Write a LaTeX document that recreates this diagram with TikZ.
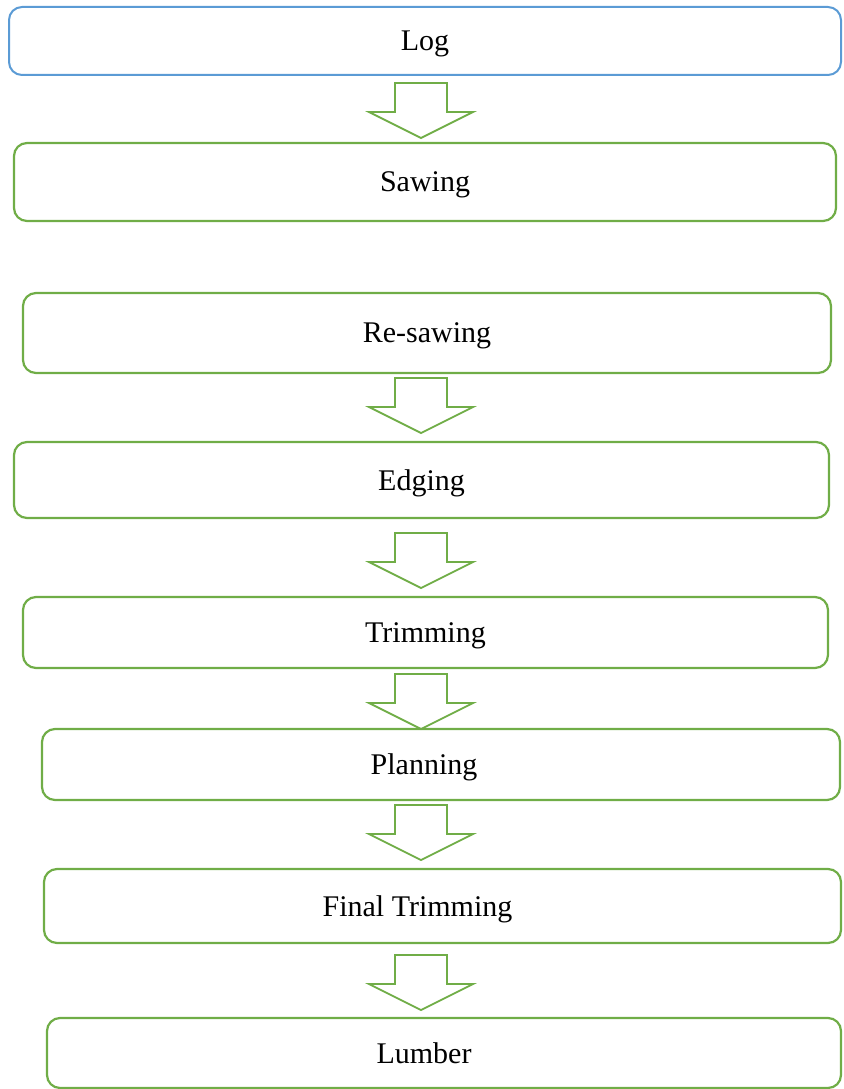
\documentclass[tikz,border=0pt]{standalone}
\usepackage{fontspec}
\setmainfont{Liberation Serif}
\definecolor{stagegreen}{RGB}{112,173,71}
\definecolor{stageblue}{RGB}{91,155,213}
\begin{document}
\begin{tikzpicture}[x=1pt,y=-1pt]
		\tikzset{stage/.style = {shape=rectangle, draw=stagegreen, line width=2.2pt, rounded corners=13pt, inner sep=0pt, text depth=0pt, font=\fontsize{30}{36}\selectfont}}
		\tikzset{stagetext/.style = {inner sep=0pt, text depth=0pt, font=\fontsize{30}{36}\selectfont}}
		\tikzset{blockarrow/.style = {draw=stagegreen, line width=1.8pt, line join=miter}}

		\useasboundingbox (0,0) rectangle (843,1089);

		\node[stage, draw=stageblue, line width=2pt, minimum width=832pt, minimum height=68pt] (S_1) at (425,41) {Log};
		\node[stage, minimum width=822pt, minimum height=78pt] (S_2) at (425,182) {Sawing};
		\node[stage, minimum width=808pt, minimum height=80pt] (S_3) at (427,333) {Re-sawing};
		\node[stage, minimum width=815pt, minimum height=76pt] (S_4) at (421.5,480) {Edging};
		\node[stage, minimum width=805pt, minimum height=71pt] (S_5) at (425.5,632.5) {Trimming};
		\node[stage, minimum width=798pt, minimum height=71pt, label={[stagetext, xshift=-17pt]center:Planning}] (S_6) at (441,764.5) {};
		\node[stage, minimum width=797pt, minimum height=74pt, label={[stagetext, xshift=-25pt]center:Final Trimming}] (S_7) at (442.5,906) {};
		\node[stage, minimum width=794pt, minimum height=70pt, label={[stagetext, xshift=-20pt]center:Lumber}] (S_8) at (444,1053) {};

		\coordinate (T_1) at (421,83);
		\coordinate (T_2) at (421,378);
		\coordinate (T_3) at (421,533);
		\coordinate (T_4) at (421,674);
		\coordinate (T_5) at (421,805);
		\coordinate (T_6) at (421,955);

		%arrows

		\draw[blockarrow] (T_1) ++(-26,0) -- ++(52,0) -- ++(0,29) -- ++(26,0) -- ++(-52,26) -- ++(-52,-26) -- ++(26,0) -- cycle;
		\draw[blockarrow] (T_2) ++(-26,0) -- ++(52,0) -- ++(0,29) -- ++(26,0) -- ++(-52,26) -- ++(-52,-26) -- ++(26,0) -- cycle;
		\draw[blockarrow] (T_3) ++(-26,0) -- ++(52,0) -- ++(0,29) -- ++(26,0) -- ++(-52,26) -- ++(-52,-26) -- ++(26,0) -- cycle;
		\draw[blockarrow] (T_4) ++(-26,0) -- ++(52,0) -- ++(0,29) -- ++(26,0) -- ++(-52,26) -- ++(-52,-26) -- ++(26,0) -- cycle;
		\draw[blockarrow] (T_5) ++(-26,0) -- ++(52,0) -- ++(0,29) -- ++(26,0) -- ++(-52,26) -- ++(-52,-26) -- ++(26,0) -- cycle;
		\draw[blockarrow] (T_6) ++(-26,0) -- ++(52,0) -- ++(0,29) -- ++(26,0) -- ++(-52,26) -- ++(-52,-26) -- ++(26,0) -- cycle;

	\end{tikzpicture}
\end{document}
